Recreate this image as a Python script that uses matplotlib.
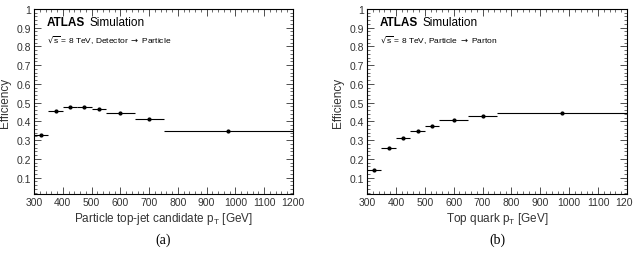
import matplotlib
matplotlib.use("Agg")
from matplotlib import pyplot as plt
from matplotlib.ticker import MultipleLocator

plt.rcParams['font.family'] = ['Liberation Sans', 'DejaVu Sans']

bin_edges = [300, 350, 400, 450, 500, 550, 650, 750, 1200]
eff_a = [0.325, 0.455, 0.476, 0.474, 0.467, 0.443, 0.412, 0.350]
eff_b = [0.142, 0.257, 0.312, 0.348, 0.373, 0.406, 0.430, 0.447]

xlabel_a = 'Particle top-jet candidate p$_\\mathregular{T}$ [GeV]'
xlabel_b = 'Top quark p$_\\mathregular{T}$ [GeV]'
info_a = '$\\sqrt{\\mathregular{s}}$ = 8 TeV, Detector $\\rightarrow$ Particle'
info_b = '$\\sqrt{\\mathregular{s}}$ = 8 TeV, Particle $\\rightarrow$ Parton'

centers = [(lo + hi) / 2 for lo, hi in zip(bin_edges[:-1], bin_edges[1:])]
half_w = [(hi - lo) / 2 for lo, hi in zip(bin_edges[:-1], bin_edges[1:])]

fig = plt.figure(figsize=(6.33, 2.55), dpi=100)
ax1 = fig.add_axes([34 / 633, 1 - 195 / 255, 259 / 633, 185 / 255])
ax2 = fig.add_axes([367 / 633, 1 - 195 / 255, 260 / 633, 185 / 255])


def draw(ax, eff, xlabel, info, tag):
    ax.errorbar(centers, eff, xerr=half_w, fmt='o', color='black', ms=2,
                elinewidth=0.8, capsize=0)
    ax.set_xlim(300, 1200)
    ax.set_ylim(0.012, 1.0)
    ax.xaxis.set_major_locator(MultipleLocator(100))
    ax.xaxis.set_minor_locator(MultipleLocator(20))
    ax.yaxis.set_minor_locator(MultipleLocator(0.02))
    ax.set_yticks([0.1, 0.2, 0.3, 0.4, 0.5, 0.6, 0.7, 0.8, 0.9, 1.0])
    ax.set_yticklabels(['0.1', '0.2', '0.3', '0.4', '0.5', '0.6', '0.7', '0.8', '0.9', '1'])
    ax.tick_params(which='both', direction='in', top=True, right=True,
                   labelsize=7.5, colors='#333333', pad=2)
    ax.tick_params(which='major', length=5, width=0.6)
    ax.tick_params(which='minor', length=2.5, width=0.5)
    for s in ax.spines.values():
        s.set_linewidth(0.8)
    ax.set_xlabel(xlabel, fontsize=8.5, color='#333333', labelpad=2)
    ax.set_ylabel('Efficiency', fontsize=8.5, color='#333333', labelpad=4)
    ax.text(0.05, 0.93, 'ATLAS', transform=ax.transAxes, fontsize=8.5,
            fontweight='bold', va='center')
    ax.text(0.215, 0.93, 'Simulation', transform=ax.transAxes, fontsize=8.5,
            va='center')
    ax.text(0.05, 0.835, info, transform=ax.transAxes, fontsize=6, va='center')
    ax.text(0.5, -0.245, tag, transform=ax.transAxes, fontsize=10, ha='center',
            va='center', family='Liberation Serif')


draw(ax1, eff_a, xlabel_a, info_a, '(a)')
draw(ax2, eff_b, xlabel_b, info_b, '(b)')

fig.savefig('out.png', dpi=100)
